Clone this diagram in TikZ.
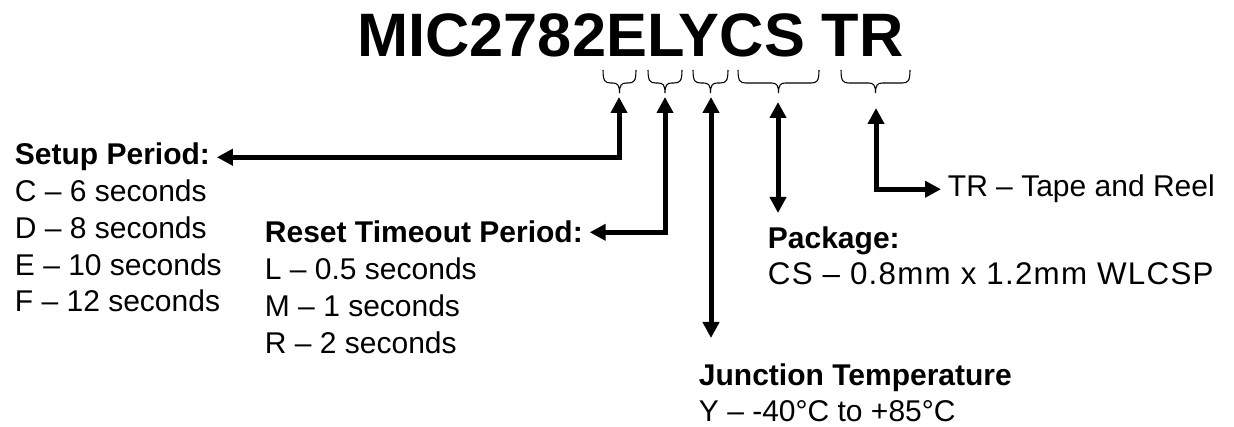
\documentclass[tikz,border=0pt]{standalone}
\usepackage{fontspec}
\setmainfont{Liberation Sans}
\usetikzlibrary{arrows.meta}

\begin{document}
\begin{tikzpicture}[x=0.75pt, y=-0.75pt,
    lbl/.style={inner xsep=5pt, inner ysep=0pt, anchor=base west, font=\fontsize{22.5pt}{27.5pt}\selectfont},
    hd/.style={lbl, font=\fontsize{22.5pt}{27.5pt}\selectfont\bfseries},
    arr/.style={line width=3.75pt, {Triangle[length=12pt,width=12pt]}-{Triangle[length=12pt,width=12pt]}},
    brc/.style={line width=0.8pt}]
  \useasboundingbox (0,0) rectangle (1234,427);
  % part number
  \node[inner sep=0pt, anchor=base west, font=\fontsize{46pt}{55pt}\selectfont\bfseries] (part) at (357,57) {MIC2782ELYCS TR};
  % braces under the fields
  \foreach \a/\b in {603/636, 648/682, 693/728, 738/819, 841/910} {
    \pgfmathsetmacro{\m}{(\a+\b)/2}
    \draw[brc] (\a,70) .. controls (\a,81) and (\a+2,83) .. (\a+8,83) -- (\m-7,83)
      .. controls (\m-2,83) and (\m,85) .. (\m,93) .. controls (\m,85) and (\m+2,83) .. (\m+7,83)
      -- (\b-8,83) .. controls (\b-2,83) and (\b,81) .. (\b,70);
  }
  \coordinate (tipE) at (619,97);
  \coordinate (tipL) at (665,97);
  \coordinate (tipY) at (711,97);
  \coordinate (tipCS) at (778,102);
  \coordinate (tipTR) at (876,108);
  \coordinate (junEnd) at (711,338);
  \coordinate (pkgEnd) at (778,213);
  % setup period
  \node[hd] (setupH) at (8,165) {Setup Period:};
  \foreach \t [count=\i] in {C -- 6 seconds, D -- 8 seconds, E -- 10 seconds, F -- 12 seconds} {
    \node[lbl] (setup\i) at (8,165+\i*36.7) {\t};
  }
  % reset timeout period
  \node[hd] (resetH) at (258,243) {Reset Timeout Period:};
  \foreach \t [count=\i] in {L -- 0.5 seconds, M -- 1 seconds, R -- 2 seconds} {
    \node[lbl] (reset\i) at (258,243+\i*36.7) {\t};
  }
  % package
  \node[hd] (pkgH) at (761,249) {Package:};
  \node[lbl, font=\fontsize{23.5pt}{27.5pt}\selectfont\addfontfeature{LetterSpace=4}] (pkg1) at (761,285) {CS -- 0.8mm x 1.2mm WLCSP};
  % junction temperature
  \node[hd] (junH) at (692,385) {Junction Temperature};
  \node[lbl] (jun1) at (692,421) {Y -- -40°C to +85°C};
  % tape and reel
  \node[lbl] (trH) at (941,197) {TR -- Tape and Reel};
  % arrows
  \draw[arr] (tipE) |- (setupH.east);
  \draw[arr] (tipL) |- (resetH.east);
  \draw[arr] (tipY) -- (junEnd);
  \draw[arr] (tipCS) -- (pkgEnd);
  \draw[arr] (tipTR) |- (trH.west);
\end{tikzpicture}
\end{document}
